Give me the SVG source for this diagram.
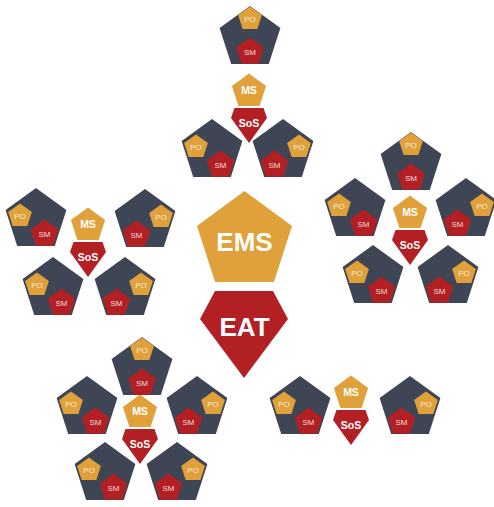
<svg xmlns="http://www.w3.org/2000/svg" width="494" height="507" viewBox="0 0 494 507">
<defs>
<style>
.team{fill:#3e4655}
.po{fill:#e0a13a}
.sm{fill:#b22024}
.ms{fill:#e0a13a}
.sos{fill:#b22024}
.ts{font-family:"Liberation Sans",Arial,sans-serif;font-size:8px;fill:#ffffff;fill-opacity:.85;text-anchor:middle}
.tm{font-family:"Liberation Sans",Arial,sans-serif;font-weight:bold;font-size:10.5px;fill:#ffffff;text-anchor:middle}
.tb{font-family:"Liberation Sans",Arial,sans-serif;font-weight:bold;font-size:26px;fill:#ffffff;text-anchor:middle}
</style>
</defs>
<rect width="494" height="507" fill="#ffffff"/>

<!-- central nodes -->
<g id="ems">
<polygon class="ms" points="244.5,191 292,226 273.9,282 215.1,282 197,226"/>
<text class="tb" x="244.5" y="251">EMS</text>
</g>
<g id="eat">
<polygon class="sos" points="215,291 273,291 288,319 244,378 200,319"/>
<text class="tb" x="244.5" y="336">EAT</text>
</g>

<!-- Top cluster -->
<g id="top-ms" transform="translate(249,107)">
<polygon class="ms" points="0,-33.6 17.1,-21.1 10.6,-1 -10.6,-1 -17.1,-21.1"/>
<text class="tm" x="0" y="-13">MS</text>
</g>
<g id="top-sos" transform="translate(249,107)">
<polygon class="sos" points="-14.5,1 14.5,1 18,11 0,36 -18,11"/>
<text class="tm" x="0" y="20">SoS</text>
</g>
<g id="top-team1" transform="translate(250,38)">
<polygon class="team" points="0,-32 30.4,-9.9 18.8,25.9 -18.8,25.9 -30.4,-9.9"/>
<polygon class="po" transform="translate(0,-19)" points="0,-12.5 11.9,-3.9 7.35,10.1 -7.35,10.1 -11.9,-3.9"/>
<polygon class="sm" transform="translate(0,14)" points="0,-14.5 13.8,-4.5 8.5,11.7 -8.5,11.7 -13.8,-4.5"/>
<text class="ts" x="0" y="-16">PO</text>
<text class="ts" x="0" y="17">SM</text>
</g>
<g id="top-team2" transform="translate(212,151)">
<polygon class="team" points="0,-32 30.4,-9.9 18.8,25.9 -18.8,25.9 -30.4,-9.9"/>
<polygon class="po" transform="translate(-16,-4)" points="0,-12.5 11.9,-3.9 7.35,10.1 -7.35,10.1 -11.9,-3.9"/>
<polygon class="sm" transform="translate(8.5,14)" points="0,-14.5 13.8,-4.5 8.5,11.7 -8.5,11.7 -13.8,-4.5"/>
<text class="ts" x="-16" y="-1">PO</text>
<text class="ts" x="8.5" y="17">SM</text>
</g>
<g id="top-team3" transform="translate(283,151)">
<polygon class="team" points="0,-32 30.4,-9.9 18.8,25.9 -18.8,25.9 -30.4,-9.9"/>
<polygon class="po" transform="translate(16,-4)" points="0,-12.5 11.9,-3.9 7.35,10.1 -7.35,10.1 -11.9,-3.9"/>
<polygon class="sm" transform="translate(-8.5,14)" points="0,-14.5 13.8,-4.5 8.5,11.7 -8.5,11.7 -13.8,-4.5"/>
<text class="ts" x="16" y="-1">PO</text>
<text class="ts" x="-8.5" y="17">SM</text>
</g>

<!-- Right cluster -->
<g id="right-ms" transform="translate(410,229)">
<polygon class="ms" points="0,-33.6 17.1,-21.1 10.6,-1 -10.6,-1 -17.1,-21.1"/>
<text class="tm" x="0" y="-13">MS</text>
</g>
<g id="right-sos" transform="translate(410,229)">
<polygon class="sos" points="-14.5,1 14.5,1 18,11 0,36 -18,11"/>
<text class="tm" x="0" y="20">SoS</text>
</g>
<g id="right-team1" transform="translate(411,164)">
<polygon class="team" points="0,-32 30.4,-9.9 18.8,25.9 -18.8,25.9 -30.4,-9.9"/>
<polygon class="po" transform="translate(0,-19)" points="0,-12.5 11.9,-3.9 7.35,10.1 -7.35,10.1 -11.9,-3.9"/>
<polygon class="sm" transform="translate(0,14)" points="0,-14.5 13.8,-4.5 8.5,11.7 -8.5,11.7 -13.8,-4.5"/>
<text class="ts" x="0" y="-16">PO</text>
<text class="ts" x="0" y="17">SM</text>
</g>
<g id="right-team2" transform="translate(355,210)">
<polygon class="team" points="0,-32 30.4,-9.9 18.8,25.9 -18.8,25.9 -30.4,-9.9"/>
<polygon class="po" transform="translate(-16,-4)" points="0,-12.5 11.9,-3.9 7.35,10.1 -7.35,10.1 -11.9,-3.9"/>
<polygon class="sm" transform="translate(8.5,14)" points="0,-14.5 13.8,-4.5 8.5,11.7 -8.5,11.7 -13.8,-4.5"/>
<text class="ts" x="-16" y="-1">PO</text>
<text class="ts" x="8.5" y="17">SM</text>
</g>
<g id="right-team3" transform="translate(466,210)">
<polygon class="team" points="0,-32 30.4,-9.9 18.8,25.9 -18.8,25.9 -30.4,-9.9"/>
<polygon class="po" transform="translate(16,-4)" points="0,-12.5 11.9,-3.9 7.35,10.1 -7.35,10.1 -11.9,-3.9"/>
<polygon class="sm" transform="translate(-8.5,14)" points="0,-14.5 13.8,-4.5 8.5,11.7 -8.5,11.7 -13.8,-4.5"/>
<text class="ts" x="16" y="-1">PO</text>
<text class="ts" x="-8.5" y="17">SM</text>
</g>
<g id="right-team4" transform="translate(373,277)">
<polygon class="team" points="0,-32 30.4,-9.9 18.8,25.9 -18.8,25.9 -30.4,-9.9"/>
<polygon class="po" transform="translate(-16,-4)" points="0,-12.5 11.9,-3.9 7.35,10.1 -7.35,10.1 -11.9,-3.9"/>
<polygon class="sm" transform="translate(8.5,14)" points="0,-14.5 13.8,-4.5 8.5,11.7 -8.5,11.7 -13.8,-4.5"/>
<text class="ts" x="-16" y="-1">PO</text>
<text class="ts" x="8.5" y="17">SM</text>
</g>
<g id="right-team5" transform="translate(448,277)">
<polygon class="team" points="0,-32 30.4,-9.9 18.8,25.9 -18.8,25.9 -30.4,-9.9"/>
<polygon class="po" transform="translate(16,-4)" points="0,-12.5 11.9,-3.9 7.35,10.1 -7.35,10.1 -11.9,-3.9"/>
<polygon class="sm" transform="translate(-8.5,14)" points="0,-14.5 13.8,-4.5 8.5,11.7 -8.5,11.7 -13.8,-4.5"/>
<text class="ts" x="16" y="-1">PO</text>
<text class="ts" x="-8.5" y="17">SM</text>
</g>

<!-- Left cluster -->
<g id="left-ms" transform="translate(88,241)">
<polygon class="ms" points="0,-33.6 17.1,-21.1 10.6,-1 -10.6,-1 -17.1,-21.1"/>
<text class="tm" x="0" y="-13">MS</text>
</g>
<g id="left-sos" transform="translate(88,241)">
<polygon class="sos" points="-14.5,1 14.5,1 18,11 0,36 -18,11"/>
<text class="tm" x="0" y="20">SoS</text>
</g>
<g id="left-team1" transform="translate(36,220)">
<polygon class="team" points="0,-32 30.4,-9.9 18.8,25.9 -18.8,25.9 -30.4,-9.9"/>
<polygon class="po" transform="translate(-16,-4)" points="0,-12.5 11.9,-3.9 7.35,10.1 -7.35,10.1 -11.9,-3.9"/>
<polygon class="sm" transform="translate(8.5,14)" points="0,-14.5 13.8,-4.5 8.5,11.7 -8.5,11.7 -13.8,-4.5"/>
<text class="ts" x="-16" y="-1">PO</text>
<text class="ts" x="8.5" y="17">SM</text>
</g>
<g id="left-team2" transform="translate(145,221)">
<polygon class="team" points="0,-32 30.4,-9.9 18.8,25.9 -18.8,25.9 -30.4,-9.9"/>
<polygon class="po" transform="translate(16,-4)" points="0,-12.5 11.9,-3.9 7.35,10.1 -7.35,10.1 -11.9,-3.9"/>
<polygon class="sm" transform="translate(-8.5,14)" points="0,-14.5 13.8,-4.5 8.5,11.7 -8.5,11.7 -13.8,-4.5"/>
<text class="ts" x="16" y="-1">PO</text>
<text class="ts" x="-8.5" y="17">SM</text>
</g>
<g id="left-team3" transform="translate(53,289)">
<polygon class="team" points="0,-32 30.4,-9.9 18.8,25.9 -18.8,25.9 -30.4,-9.9"/>
<polygon class="po" transform="translate(-16,-4)" points="0,-12.5 11.9,-3.9 7.35,10.1 -7.35,10.1 -11.9,-3.9"/>
<polygon class="sm" transform="translate(8.5,14)" points="0,-14.5 13.8,-4.5 8.5,11.7 -8.5,11.7 -13.8,-4.5"/>
<text class="ts" x="-16" y="-1">PO</text>
<text class="ts" x="8.5" y="17">SM</text>
</g>
<g id="left-team4" transform="translate(125,289)">
<polygon class="team" points="0,-32 30.4,-9.9 18.8,25.9 -18.8,25.9 -30.4,-9.9"/>
<polygon class="po" transform="translate(16,-4)" points="0,-12.5 11.9,-3.9 7.35,10.1 -7.35,10.1 -11.9,-3.9"/>
<polygon class="sm" transform="translate(-8.5,14)" points="0,-14.5 13.8,-4.5 8.5,11.7 -8.5,11.7 -13.8,-4.5"/>
<text class="ts" x="16" y="-1">PO</text>
<text class="ts" x="-8.5" y="17">SM</text>
</g>

<!-- Bottom-left cluster -->
<g id="bl-ms" transform="translate(140,428)">
<polygon class="ms" points="0,-33.6 17.1,-21.1 10.6,-1 -10.6,-1 -17.1,-21.1"/>
<text class="tm" x="0" y="-13">MS</text>
</g>
<g id="bl-sos" transform="translate(140,428)">
<polygon class="sos" points="-14.5,1 14.5,1 18,11 0,36 -18,11"/>
<text class="tm" x="0" y="20">SoS</text>
</g>
<g id="bl-team1" transform="translate(142,369)">
<polygon class="team" points="0,-32 30.4,-9.9 18.8,25.9 -18.8,25.9 -30.4,-9.9"/>
<polygon class="po" transform="translate(0,-19)" points="0,-12.5 11.9,-3.9 7.35,10.1 -7.35,10.1 -11.9,-3.9"/>
<polygon class="sm" transform="translate(0,14)" points="0,-14.5 13.8,-4.5 8.5,11.7 -8.5,11.7 -13.8,-4.5"/>
<text class="ts" x="0" y="-16">PO</text>
<text class="ts" x="0" y="17">SM</text>
</g>
<g id="bl-team2" transform="translate(87,408)">
<polygon class="team" points="0,-32 30.4,-9.9 18.8,25.9 -18.8,25.9 -30.4,-9.9"/>
<polygon class="po" transform="translate(-16,-4)" points="0,-12.5 11.9,-3.9 7.35,10.1 -7.35,10.1 -11.9,-3.9"/>
<polygon class="sm" transform="translate(8.5,14)" points="0,-14.5 13.8,-4.5 8.5,11.7 -8.5,11.7 -13.8,-4.5"/>
<text class="ts" x="-16" y="-1">PO</text>
<text class="ts" x="8.5" y="17">SM</text>
</g>
<g id="bl-team3" transform="translate(197,408)">
<polygon class="team" points="0,-32 30.4,-9.9 18.8,25.9 -18.8,25.9 -30.4,-9.9"/>
<polygon class="po" transform="translate(16,-4)" points="0,-12.5 11.9,-3.9 7.35,10.1 -7.35,10.1 -11.9,-3.9"/>
<polygon class="sm" transform="translate(-8.5,14)" points="0,-14.5 13.8,-4.5 8.5,11.7 -8.5,11.7 -13.8,-4.5"/>
<text class="ts" x="16" y="-1">PO</text>
<text class="ts" x="-8.5" y="17">SM</text>
</g>
<g id="bl-team4" transform="translate(105,474)">
<polygon class="team" points="0,-32 30.4,-9.9 18.8,25.9 -18.8,25.9 -30.4,-9.9"/>
<polygon class="po" transform="translate(-16,-4)" points="0,-12.5 11.9,-3.9 7.35,10.1 -7.35,10.1 -11.9,-3.9"/>
<polygon class="sm" transform="translate(8.5,14)" points="0,-14.5 13.8,-4.5 8.5,11.7 -8.5,11.7 -13.8,-4.5"/>
<text class="ts" x="-16" y="-1">PO</text>
<text class="ts" x="8.5" y="17">SM</text>
</g>
<g id="bl-team5" transform="translate(177,474)">
<polygon class="team" points="0,-32 30.4,-9.9 18.8,25.9 -18.8,25.9 -30.4,-9.9"/>
<polygon class="po" transform="translate(16,-4)" points="0,-12.5 11.9,-3.9 7.35,10.1 -7.35,10.1 -11.9,-3.9"/>
<polygon class="sm" transform="translate(-8.5,14)" points="0,-14.5 13.8,-4.5 8.5,11.7 -8.5,11.7 -13.8,-4.5"/>
<text class="ts" x="16" y="-1">PO</text>
<text class="ts" x="-8.5" y="17">SM</text>
</g>

<!-- Bottom-right cluster -->
<g id="br-ms" transform="translate(351,409)">
<polygon class="ms" points="0,-33.6 17.1,-21.1 10.6,-1 -10.6,-1 -17.1,-21.1"/>
<text class="tm" x="0" y="-13">MS</text>
</g>
<g id="br-sos" transform="translate(351,409)">
<polygon class="sos" points="-14.5,1 14.5,1 18,11 0,36 -18,11"/>
<text class="tm" x="0" y="20">SoS</text>
</g>
<g id="br-team1" transform="translate(300,408)">
<polygon class="team" points="0,-32 30.4,-9.9 18.8,25.9 -18.8,25.9 -30.4,-9.9"/>
<polygon class="po" transform="translate(-16,-4)" points="0,-12.5 11.9,-3.9 7.35,10.1 -7.35,10.1 -11.9,-3.9"/>
<polygon class="sm" transform="translate(8.5,14)" points="0,-14.5 13.8,-4.5 8.5,11.7 -8.5,11.7 -13.8,-4.5"/>
<text class="ts" x="-16" y="-1">PO</text>
<text class="ts" x="8.5" y="17">SM</text>
</g>
<g id="br-team2" transform="translate(410,408)">
<polygon class="team" points="0,-32 30.4,-9.9 18.8,25.9 -18.8,25.9 -30.4,-9.9"/>
<polygon class="po" transform="translate(16,-4)" points="0,-12.5 11.9,-3.9 7.35,10.1 -7.35,10.1 -11.9,-3.9"/>
<polygon class="sm" transform="translate(-8.5,14)" points="0,-14.5 13.8,-4.5 8.5,11.7 -8.5,11.7 -13.8,-4.5"/>
<text class="ts" x="16" y="-1">PO</text>
<text class="ts" x="-8.5" y="17">SM</text>
</g>

<g id="connectors"></g>
</svg>
